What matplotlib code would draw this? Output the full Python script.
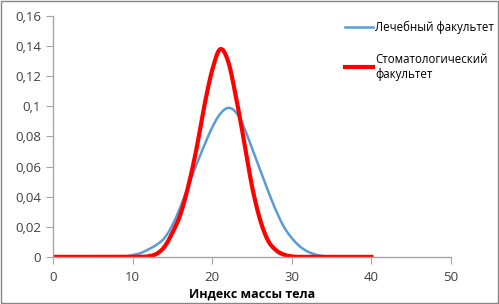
import numpy as np
import matplotlib.pyplot as plt
from matplotlib.patches import Rectangle

plt.rcParams['font.family'] = ['Open Sans', 'DejaVu Sans']

# индекс массы тела
x = list(range(0, 41))
# Лечебный факультет
lech = [0, 0, 0, 0, 0, 0, 0, 0, 0, 0.0002, 0.0012,
        0.0025, 0.005, 0.008, 0.0125, 0.021, 0.033, 0.047, 0.061, 0.074, 0.086,
        0.095, 0.099, 0.096, 0.086, 0.072, 0.058, 0.044, 0.031, 0.020, 0.0125,
        0.007, 0.0035, 0.0015, 0.0005, 0.0001, 0, 0, 0, 0, 0]
# Стоматологический факультет
stom = [0, 0, 0, 0, 0, 0, 0, 0, 0, 0, 0,
        0, 0.0004, 0.002, 0.0066, 0.016, 0.028, 0.047, 0.071, 0.100, 0.124,
        0.138, 0.130, 0.106, 0.077, 0.047, 0.025, 0.011, 0.0045, 0.0015, 0.0003,
        0, 0, 0, 0, 0, 0, 0, 0, 0, 0]

xticks = [0, 10, 20, 30, 40, 50]
yticks = [0, 0.02, 0.04, 0.06, 0.08, 0.1, 0.12, 0.14, 0.16]
ylabels = ['0', '0,02', '0,04', '0,06', '0,08', '0,1', '0,12', '0,14', '0,16']

fig = plt.figure(figsize=(4.99, 3.04), dpi=100, facecolor='w')
ax = fig.add_axes([0.106, 0.155, 0.798, 0.792])

# сглаживание как в Excel (Catmull-Rom)
def smooth(xs, ys, n=20):
    xs = np.asarray(xs, float); ys = np.asarray(ys, float)
    px, py = [], []
    for i in range(len(xs) - 1):
        x0, x1 = xs[max(i - 1, 0)], xs[i]
        x2, x3 = xs[i + 1], xs[min(i + 2, len(xs) - 1)]
        y0, y1 = ys[max(i - 1, 0)], ys[i]
        y2, y3 = ys[i + 1], ys[min(i + 2, len(ys) - 1)]
        t = np.linspace(0, 1, n, endpoint=False)
        px.extend(0.5 * (2 * x1 + (-x0 + x2) * t + (2 * x0 - 5 * x1 + 4 * x2 - x3) * t ** 2 + (-x0 + 3 * x1 - 3 * x2 + x3) * t ** 3))
        py.extend(0.5 * (2 * y1 + (-y0 + y2) * t + (2 * y0 - 5 * y1 + 4 * y2 - y3) * t ** 2 + (-y0 + 3 * y1 - 3 * y2 + y3) * t ** 3))
    px.append(xs[-1]); py.append(ys[-1])
    return np.array(px), np.maximum(np.array(py), 0)

bx, by = smooth(x, lech)
rx, ry = smooth(x, stom)
ax.plot(bx, by, color='#5b9bd5', lw=1.8, label='Лечебный факультет')
ax.plot(rx, ry, color='#ff0000', lw=3, label='Стоматологический\nфакультет')

ax.set_xlim(0, 50)
ax.set_ylim(0, 0.16)
ax.set_xticks(xticks)
ax.set_yticks(yticks)
ax.set_yticklabels(ylabels)
for s in ['top', 'right']:
    ax.spines[s].set_visible(False)
for s in ['left', 'bottom']:
    ax.spines[s].set_color('#a6a6a6')
    ax.spines[s].set_linewidth(1)
ax.tick_params(colors='#a6a6a6', labelcolor='#404040', labelsize=9.5, length=5, direction='out')
ax.tick_params(axis='x', pad=5)
ax.set_xlabel('Индекс массы тела', fontsize=9, fontweight='bold', labelpad=3)

ax.legend(loc='upper left', bbox_to_anchor=(0.722, 1.0), frameon=False, fontsize=8.3,
          handlelength=2.4, handletextpad=0.2, labelspacing=1.6, borderaxespad=0)

fig.patches.append(Rectangle((0.002, 0.003), 0.996, 0.994, transform=fig.transFigure,
                             fill=False, edgecolor='#868686', lw=1))
fig.savefig('out.png', dpi=100)
